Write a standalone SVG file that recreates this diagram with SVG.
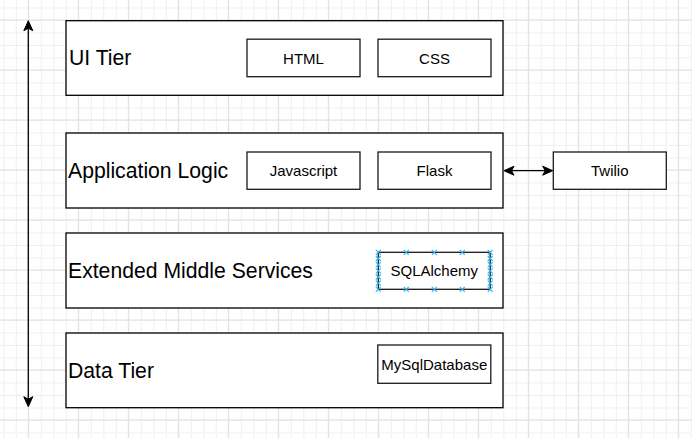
<svg xmlns="http://www.w3.org/2000/svg" width="692" height="438" viewBox="0 0 692 438">
  <style>
    .tier { fill: #ffffff; stroke: #000000; stroke-width: 1.3; }
    .sub { fill: #ffffff; stroke: #1a1a1a; stroke-width: 1.3; }
    .tl { font-family: "Liberation Sans", Arial, sans-serif; font-size: 21.2px; fill: #000000; }
    .sl { font-family: "Liberation Sans", Arial, sans-serif; font-size: 15px; fill: #000000; text-anchor: middle; }
    .edge { stroke: #000000; stroke-width: 1.3; fill: none; }
    .pt { stroke: #29b6f2; stroke-width: 1.1; fill: none; }
  </style>
  <defs>
    <pattern id="minor" width="12.5" height="12.5" x="3.33" y="7.5" patternUnits="userSpaceOnUse">
      <path d="M0,0.5 H12.5 M0.5,0 V12.5" stroke="#efefef" stroke-width="1" fill="none"/>
    </pattern>
    <pattern id="major" width="50" height="50" x="27.83" y="19.5" patternUnits="userSpaceOnUse">
      <path d="M0,0.5 H50 M0.5,0 V50" stroke="#e0e0e0" stroke-width="1" fill="none"/>
    </pattern>
    <marker id="arr" viewBox="-4 -6 13 12" refX="0" refY="0" markerWidth="13" markerHeight="12" markerUnits="userSpaceOnUse" orient="auto-start-reverse">
      <path d="M7.5,0 L-2.5,-4.5 L0,0 L-2.5,4.5 Z" fill="#000000" stroke="#000000" stroke-width="1"/>
    </marker>
    <path id="x" d="M-2.5,-2.5 L2.5,2.5 M-2.5,2.5 L2.5,-2.5"/>
  </defs>
  <rect width="692" height="438" fill="#ffffff"/>
  <rect width="692" height="438" fill="url(#minor)"/>
  <rect width="692" height="438" fill="url(#major)"/>

  <g id="connectors">
    <line class="edge" x1="28.3" y1="28.2" x2="28.3" y2="399.2" marker-start="url(#arr)" marker-end="url(#arr)"/>
    <line class="edge" x1="511.5" y1="170.7" x2="545.2" y2="170.7" marker-start="url(#arr)" marker-end="url(#arr)"/>
  </g>

  <g id="ui-tier">
    <rect class="tier" x="66" y="20.7" width="437" height="74.6"/>
    <text class="tl" x="69" y="65.3">UI Tier</text>
  </g>
  <g id="html">
    <rect class="sub" x="247" y="39.2" width="113" height="37.5"/>
    <text class="sl" x="303.5" y="63.5">HTML</text>
  </g>
  <g id="css">
    <rect class="sub" x="378" y="39.2" width="113" height="37.5"/>
    <text class="sl" x="434.5" y="63.5">CSS</text>
  </g>

  <g id="application-logic">
    <rect class="tier" x="66" y="133" width="437" height="75"/>
    <text class="tl" x="68" y="177.8">Application Logic</text>
  </g>
  <g id="javascript">
    <rect class="sub" x="247" y="152" width="113" height="37.3"/>
    <text class="sl" x="303.5" y="176.2">Javascript</text>
  </g>
  <g id="flask">
    <rect class="sub" x="378" y="152" width="113" height="37.3"/>
    <text class="sl" x="434.5" y="176.2">Flask</text>
  </g>
  <g id="twilio">
    <rect class="sub" x="553.3" y="152" width="113" height="37.3"/>
    <text class="sl" x="609.8" y="176.2">Twilio</text>
  </g>

  <g id="extended-middle-services">
    <rect class="tier" x="66" y="233" width="437" height="75"/>
    <text class="tl" x="68" y="277.8">Extended Middle Services</text>
  </g>
  <g id="sqlalchemy">
    <rect class="sub" x="378.3" y="252.3" width="111.9" height="37"/>
    <text class="sl" x="434.3" y="276.3">SQLAlchemy</text>
    <g class="pt">
      <use href="#x" x="378.3" y="252.3"/><use href="#x" x="406.3" y="252.3"/><use href="#x" x="434.3" y="252.3"/><use href="#x" x="462.3" y="252.3"/><use href="#x" x="490.2" y="252.3"/>
      <use href="#x" x="378.3" y="289.3"/><use href="#x" x="406.3" y="289.3"/><use href="#x" x="434.3" y="289.3"/><use href="#x" x="462.3" y="289.3"/><use href="#x" x="490.2" y="289.3"/>
      <use href="#x" x="378.3" y="258.5"/><use href="#x" x="378.3" y="264.6"/><use href="#x" x="378.3" y="270.8"/><use href="#x" x="378.3" y="277"/><use href="#x" x="378.3" y="283.1"/>
      <use href="#x" x="490.2" y="258.5"/><use href="#x" x="490.2" y="264.6"/><use href="#x" x="490.2" y="270.8"/><use href="#x" x="490.2" y="277"/><use href="#x" x="490.2" y="283.1"/>
    </g>
  </g>

  <g id="data-tier">
    <rect class="tier" x="66" y="333" width="437" height="74.7"/>
    <text class="tl" x="68" y="377.8">Data Tier</text>
  </g>
  <g id="mysqldatabase">
    <rect class="sub" x="377.8" y="345" width="113" height="38.3"/>
    <text class="sl" x="434.3" y="369.5">MySqlDatabase</text>
  </g>
</svg>
